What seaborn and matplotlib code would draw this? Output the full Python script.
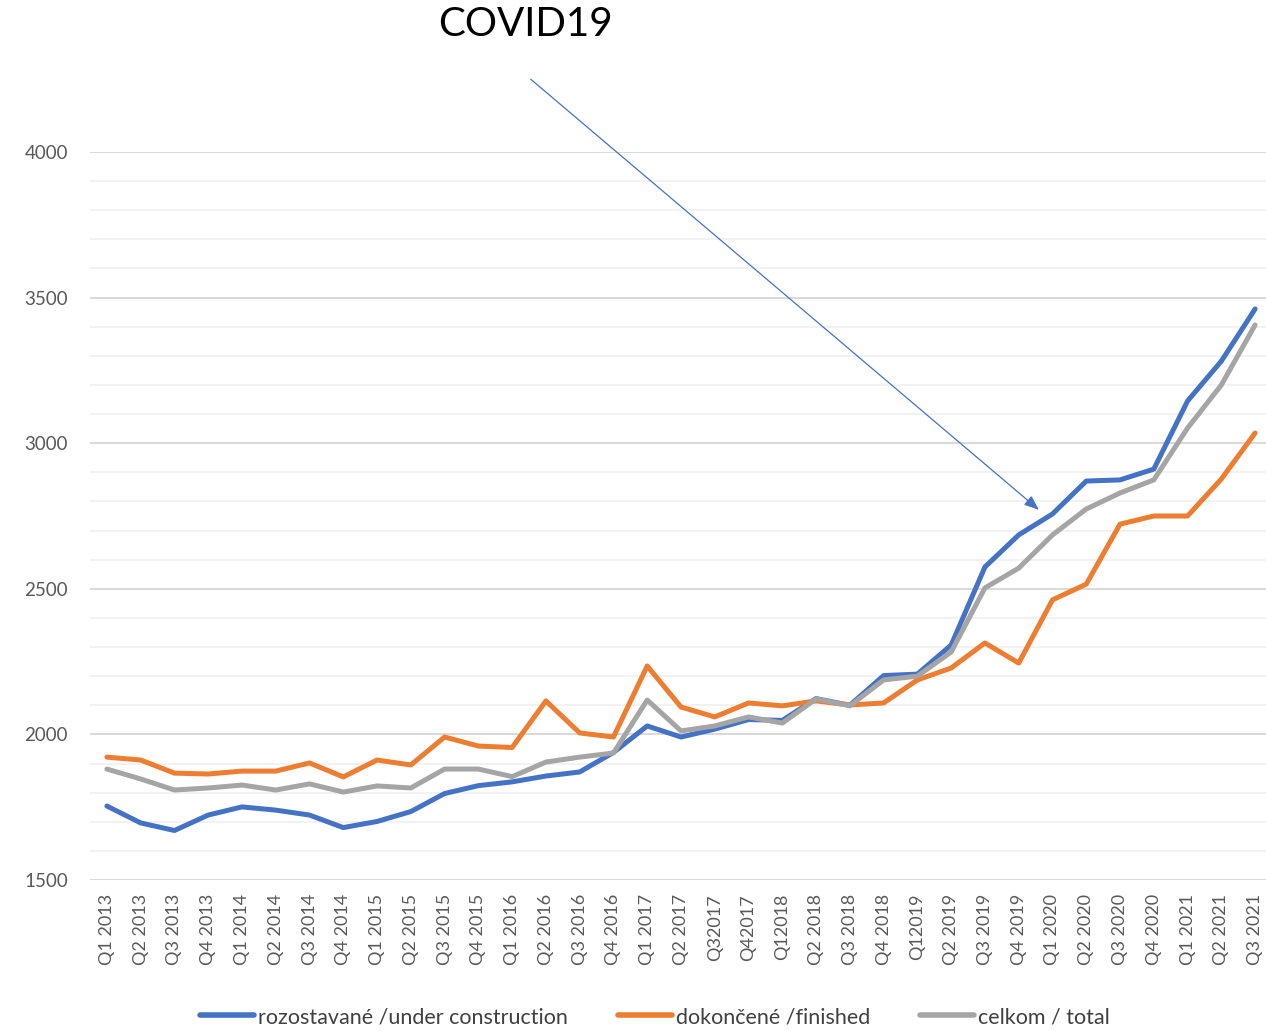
import matplotlib
matplotlib.use('Agg')
import matplotlib.pyplot as plt
import seaborn as sns
import pandas as pd
from matplotlib.ticker import MultipleLocator

quarters = [
    "Q1 2013", "Q2 2013", "Q3 2013", "Q4 2013",
    "Q1 2014", "Q2 2014", "Q3 2014", "Q4 2014",
    "Q1 2015", "Q2 2015", "Q3 2015", "Q4 2015",
    "Q1 2016", "Q2 2016", "Q3 2016", "Q4 2016",
    "Q1 2017", "Q2 2017", "Q32017", "Q42017",
    "Q12018", "Q2 2018", "Q3 2018", "Q4 2018",
    "Q12019", "Q2 2019", "Q3 2019", "Q4 2019",
    "Q1 2020", "Q2 2020", "Q3 2020", "Q4 2020",
    "Q1 2021", "Q2 2021", "Q3 2021",
]

under_construction = [
    1754, 1696, 1670, 1723, 1751, 1740, 1723, 1680, 1701, 1735, 1797, 1824,
    1837, 1857, 1871, 1938, 2029, 1991, 2018, 2051, 2048, 2123, 2100, 2202,
    2207, 2307, 2575, 2685, 2757, 2870, 2874, 2911, 3145, 3282, 3461,
]
finished = [
    1922, 1912, 1867, 1864, 1874, 1874, 1902, 1854, 1912, 1895, 1991, 1960,
    1955, 2115, 2005, 1991, 2235, 2094, 2060, 2108, 2098, 2115, 2101, 2108,
    2187, 2228, 2314, 2245, 2462, 2516, 2722, 2750, 2750, 2877, 3035,
]
total = [
    1881, 1847, 1809, 1816, 1826, 1809, 1830, 1802, 1823, 1816, 1881, 1881,
    1855, 1905, 1922, 1936, 2118, 2012, 2029, 2060, 2039, 2122, 2098, 2187,
    2200, 2283, 2503, 2571, 2685, 2774, 2829, 2874, 3052, 3200, 3406,
]

series_names = ["rozostavané /under construction", "dokončené /finished", "celkom / total"]
series_colors = ["#4472C4", "#ED7D31", "#A5A5A5"]

# annotation anchor (category index, value)
covid_tip = (27.6, 2771)
covid_tail = (12.55, 4250)

rows = []
for name, vals in zip(series_names, [under_construction, finished, total]):
    for i, v in enumerate(vals):
        rows.append({"idx": i, "value": v, "series": name})
df = pd.DataFrame(rows)

sns.set_style("white")
plt.rcParams['font.family'] = ['Lato', 'DejaVu Sans']

fig = plt.figure(figsize=(12.66, 10.31), dpi=100)
ax = fig.add_axes([90 / 1266, 151 / 1031, 1182 / 1266, 728 / 1031])

sns.lineplot(data=df, x="idx", y="value", hue="series", hue_order=series_names,
             palette=series_colors, linewidth=3.6, ax=ax, legend=False,
             solid_capstyle="round", solid_joinstyle="round")

ax.set_xlim(-0.5, len(quarters) - 0.5)
ax.set_ylim(1500, 4000)
ax.yaxis.set_major_locator(MultipleLocator(500))
ax.yaxis.set_minor_locator(MultipleLocator(100))
ax.grid(which="major", axis="y", color="#d9d9d9", linewidth=1.4)
ax.grid(which="minor", axis="y", color="#f0f0f0", linewidth=1.2)
ax.set_axisbelow(True)
ax.set_xticks(range(len(quarters)))
ax.set_xticklabels(quarters, rotation=90, fontsize=13, color="#595959")
ax.tick_params(axis="y", labelsize=13.5, labelcolor="#595959", length=0, pad=16)
ax.tick_params(axis="x", length=0, pad=10)
ax.set_xlabel("")
ax.set_ylabel("")
for s in ax.spines.values():
    s.set_visible(False)

ax.annotate("", xy=covid_tip, xytext=covid_tail, annotation_clip=False,
            arrowprops=dict(arrowstyle="-|>,head_length=0.9,head_width=0.35",
                            color="#4472C4", lw=0.9, shrinkA=0, shrinkB=0))
fig.text(525 / 1266, 1 - 25 / 1031, "COVID19", fontsize=29, ha="center", va="center",
         color="black")

handles = [plt.Line2D([], [], color=c, lw=4, solid_capstyle="round") for c in series_colors]
fig.legend(handles, series_names, loc="center", bbox_to_anchor=(655 / 1266, 1 - 1017 / 1031),
           ncol=3, frameon=False, fontsize=15.5, handlelength=2.5, handletextpad=0.2,
           columnspacing=2.3, labelcolor="#404040")

fig.savefig("out.png", dpi=100)
